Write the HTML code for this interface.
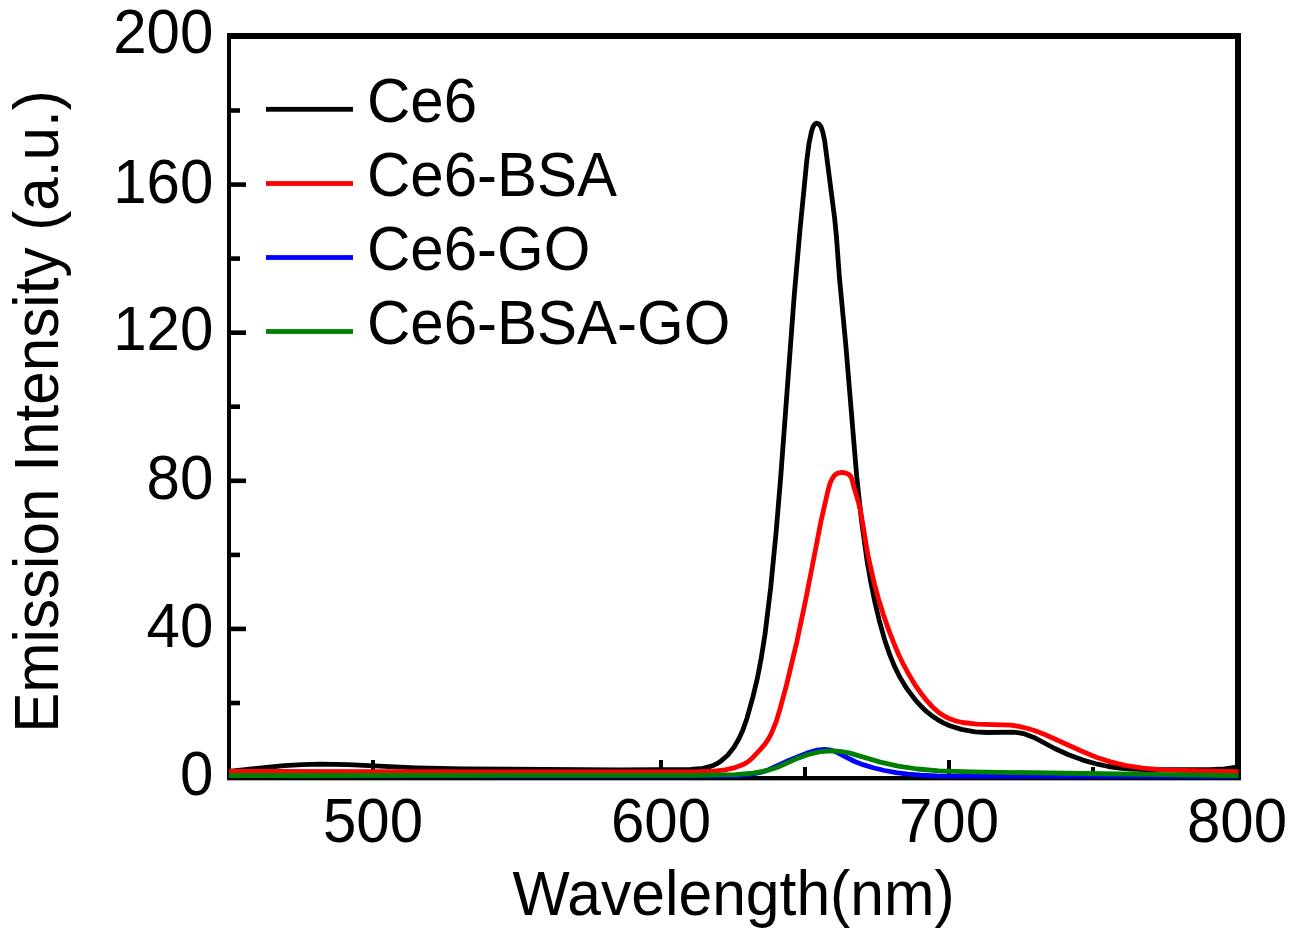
<!DOCTYPE html>
<html><head><meta charset="utf-8"><style>
html,body{margin:0;padding:0;background:#fff;}
body{width:1297px;height:933px;overflow:hidden;}
svg{display:block;font-family:"Liberation Sans",sans-serif;}
</style></head><body>
<svg width="1297" height="933" viewBox="0 0 1297 933">
<rect width="1297" height="933" fill="#ffffff"/>
<g fill="#000">
<rect x="227" y="33" width="4" height="748"/>
<rect x="1235" y="33" width="6" height="748"/>
<rect x="227" y="33" width="1014" height="6"/>
<rect x="227" y="776" width="1014" height="4"/>
<rect x="227" y="780" width="1014" height="1" fill="#a8a8a8"/>
<rect x="231" y="700.7" width="9" height="4.6"/>
<rect x="231" y="626.6" width="15" height="4.6"/>
<rect x="231" y="552.6" width="9" height="4.6"/>
<rect x="231" y="478.5" width="15" height="4.6"/>
<rect x="231" y="404.4" width="9" height="4.6"/>
<rect x="231" y="330.4" width="15" height="4.6"/>
<rect x="231" y="256.3" width="9" height="4.6"/>
<rect x="231" y="182.3" width="15" height="4.6"/>
<rect x="231" y="108.2" width="9" height="4.6"/>
<rect x="371.0" y="760.0" width="4" height="18"/>
<rect x="515.0" y="767.0" width="4" height="11"/>
<rect x="659.0" y="760.0" width="4" height="18"/>
<rect x="803.0" y="767.0" width="4" height="11"/>
<rect x="947.0" y="760.0" width="4" height="18"/>
<rect x="1091.0" y="767.0" width="4" height="11"/>
</g>
<g fill="none" stroke-linejoin="round" stroke-linecap="butt" stroke-width="4.8">
<path stroke="#000" d="M229.0 771.3 284.2 765.6 302.2 764.6 320.2 764.2 348.0 764.7 415.8 767.8 464.4 769.0 619.8 769.9 690.6 769.5 703.2 768.3 712.4 765.9 716.0 764.2 720.6 761.4 727.9 755.0 734.0 747.3 738.9 738.8 742.9 729.9 747.0 718.2 752.9 696.9 757.4 678.1 761.3 657.7 765.0 634.4 770.7 587.5 776.1 532.3 780.7 477.0 794.2 295.8 799.9 230.9 806.8 160.5 808.9 144.1 811.5 131.4 812.9 127.2 814.1 124.9 815.9 123.4 816.9 123.2 818.9 123.9 821.1 127.0 822.9 132.6 824.7 141.0 834.6 218.0 836.5 237.3 839.4 277.4 845.8 345.1 856.7 476.4 861.5 520.5 866.8 559.0 870.6 581.0 874.7 601.4 879.2 620.3 884.4 638.9 889.2 653.3 894.4 666.1 899.9 677.2 906.4 688.0 915.7 700.4 921.4 706.6 926.4 711.4 931.8 715.7 937.5 719.6 943.4 722.9 949.7 725.7 961.5 729.4 975.1 731.8 987.7 732.5 1012.6 732.1 1019.4 732.8 1024.7 733.9 1033.9 737.4 1054.7 748.5 1068.5 754.8 1082.9 760.1 1097.6 764.2 1108.5 766.5 1119.5 768.0 1131.9 769.0 1145.7 769.6 1209.5 769.7 1224.7 768.8 1238.5 767.0"/>
<path stroke="#ff0000" d="M229.0 771.4 507.2 772.0 698.9 771.6 713.9 771.1 725.1 769.9 735.2 767.6 743.2 764.6 748.0 761.8 751.5 758.8 760.0 749.9 765.0 744.1 768.2 739.4 771.3 733.7 776.2 721.6 780.0 709.0 786.4 685.4 796.9 641.6 805.6 600.2 821.2 520.3 828.3 489.2 830.6 481.8 833.6 476.4 835.3 474.6 837.3 473.4 841.4 472.4 845.3 472.9 848.9 474.5 850.8 476.5 851.9 479.1 853.8 486.9 858.2 501.2 860.6 511.2 867.9 554.9 874.2 583.2 878.4 598.6 883.1 613.8 888.3 628.9 893.7 642.9 898.5 654.2 903.8 665.2 909.2 675.1 915.0 684.8 921.5 694.0 927.4 701.4 933.1 707.5 938.7 712.4 944.1 716.0 949.8 718.8 956.0 721.0 962.5 722.5 976.8 724.1 1010.5 725.2 1018.7 726.3 1027.8 728.5 1035.8 731.0 1045.4 734.8 1080.8 750.7 1096.3 757.2 1110.5 761.9 1125.0 765.4 1142.8 768.1 1163.4 769.9 1181.2 770.5 1238.5 771.6"/>
<path stroke="#0000ff" d="M229.0 775.6 736.3 775.9 749.7 774.7 761.5 772.2 768.6 769.7 786.1 761.6 808.7 752.5 817.1 750.1 824.3 749.4 829.5 749.8 834.5 751.2 854.7 761.5 863.7 764.9 874.1 768.0 884.7 770.5 896.0 772.6 908.0 774.1 920.8 775.2 937.1 775.9 956.9 776.2 1238.6 776.3"/>
<path stroke="#008000" d="M229.0 775.5 691.9 775.3 735.3 774.6 752.8 773.2 766.6 770.7 776.9 767.5 797.3 758.4 808.2 754.5 820.2 751.7 831.7 750.8 839.7 751.3 849.0 752.9 880.3 762.1 898.1 766.1 917.4 769.0 939.0 770.8 970.8 771.9 1238.5 775.6"/>
</g>
<g fill="#000" font-size="60">
<text transform="translate(213.3,795.3) scale(1,1.05)" text-anchor="end">0</text>
<text transform="translate(213.3,647.3) scale(1,1.05)" text-anchor="end">40</text>
<text transform="translate(213.3,499.4) scale(1,1.05)" text-anchor="end">80</text>
<text transform="translate(213.3,349.9) scale(1,1.05)" text-anchor="end">120</text>
<text transform="translate(213.3,202.7) scale(1,1.05)" text-anchor="end">160</text>
<text transform="translate(213.3,52.9) scale(1,1.05)" text-anchor="end">200</text>
<text transform="translate(373.0,841.5) scale(1,1.05)" text-anchor="middle">500</text>
<text transform="translate(661.0,841.5) scale(1,1.05)" text-anchor="middle">600</text>
<text transform="translate(949.0,841.5) scale(1,1.05)" text-anchor="middle">700</text>
<text transform="translate(1237.0,841.5) scale(1,1.05)" text-anchor="middle">800</text>
<text transform="translate(733.5,914.5) scale(1.01,1.05)" text-anchor="middle">Wavelength(nm)</text>
<text transform="translate(57.6,411.5) rotate(-90) scale(1.004,1.05)" text-anchor="middle">Emission Intensity (a.u.)</text>
<rect x="266" y="106.9" width="87" height="4.8" fill="#000000"/>
<text transform="translate(367,122.2) scale(1,1.05)">Ce6</text>
<rect x="266" y="181.1" width="87" height="4.8" fill="#ff0000"/>
<text transform="translate(367,196.4) scale(1,1.05)">Ce6-BSA</text>
<rect x="266" y="255.1" width="87" height="4.8" fill="#0000ff"/>
<text transform="translate(367,270.4) scale(1,1.05)">Ce6-GO</text>
<rect x="266" y="329.1" width="87" height="4.8" fill="#008000"/>
<text transform="translate(367,344.4) scale(1,1.05)">Ce6-BSA-GO</text>
</g>
</svg>
</body></html>
